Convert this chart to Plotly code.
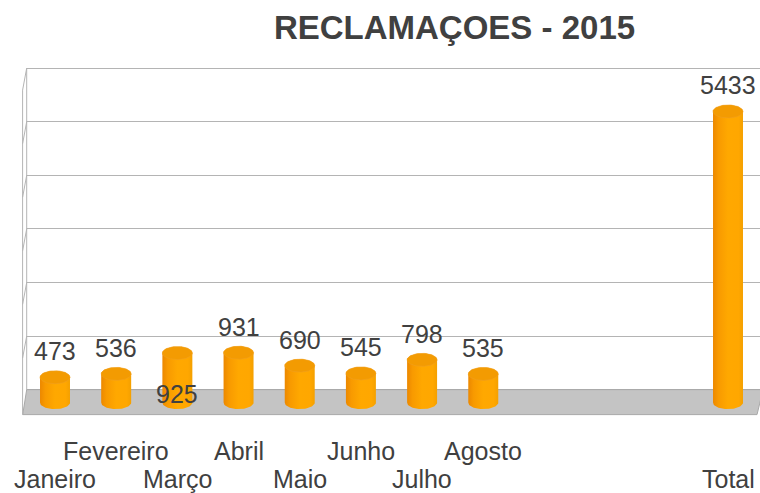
import numpy as np
import plotly.graph_objects as go

# ---- data ----
CATEGORIES = ["Janeiro", "Fevereiro", "Março", "Abril", "Maio", "Junho",
              "Julho", "Agosto", "", "", "", "Total"]
VALUES = [473, 536, 925, 931, 690, 545, 798, 535, None, None, None, 5433]
LABEL_INSIDE = ["Março"]          # data label drawn at the foot of the bar
LOWER_ROW = ["Janeiro", "Março", "Maio", "Julho", "Total"]  # staggered axis labels
TITLE = "RECLAMAÇOES - 2015"
GRID_VALUES = [242, 1242, 2242, 3242, 4242, 5242, 6242]

# ---- style ----
W, H = 760, 493
ML, MR, MT, MB = 22, 0, 65, 77
XR = [-0.5394, 11.523]
YR = [-250, 6300]
PX_PER_Y = (H - MT - MB) / (YR[1] - YR[0])
HALF_W = 0.245
RY = 6.5 / PX_PER_Y
TXT = "#404040"
FONT = "Liberation Sans, Arial, sans-serif"
BODY_SCALE = [[0, "#EC8800"], [0.18, "#F89A00"], [0.5, "#FFA800"],
              [0.85, "#FFA700"], [1, "#F4A000"]]
CAP = "#F39B02"
GRID = "#B4B4B4"

fig = go.Figure()
t_bot = np.linspace(np.pi, 2 * np.pi, 40)
t_top = np.linspace(0, np.pi, 40)
t_full = np.linspace(0, 2 * np.pi, 80)

for i, (cat, v) in enumerate(zip(CATEGORIES, VALUES)):
    if v is None:
        continue
    xs = list(i + HALF_W * np.cos(t_bot)) + list(i + HALF_W * np.cos(t_top))
    ys = list(0 + RY * np.sin(t_bot)) + list(v + RY * np.sin(t_top))
    fig.add_trace(go.Scatter(
        x=xs, y=ys, mode="lines", fill="toself", line=dict(width=0),
        fillgradient=dict(type="horizontal", colorscale=BODY_SCALE),
        hoverinfo="skip", showlegend=False))
    fig.add_trace(go.Scatter(
        x=i + HALF_W * np.cos(t_full), y=v + RY * np.sin(t_full),
        mode="lines", fill="toself", fillcolor=CAP,
        line=dict(width=0.6, color="#F0A020"),
        hoverinfo="skip", showlegend=False))

annotations = []
for i, (cat, v) in enumerate(zip(CATEGORIES, VALUES)):
    if v is not None:
        inside = cat in LABEL_INSIDE
        annotations.append(dict(
            x=i, y=0 if inside else v, xref="x", yref="y",
            text=str(v), showarrow=False, yanchor="middle",
            yshift=9 if inside else 26,
            font=dict(family=FONT, size=25, color=TXT)))
    if cat:
        annotations.append(dict(
            x=i, y=0, xref="x", yref="y", text=cat, showarrow=False,
            yanchor="middle", yshift=-76 if cat in LOWER_ROW else -48,
            font=dict(family=FONT, size=25, color=TXT)))


def xpx(p):
    return (p - 55) / 61.18


shapes = [
    # cover gridline stubs on the left wall
    dict(type="rect", xref="x", yref="y", x0=XR[0], x1=xpx(26.5),
         y0=YR[0], y1=YR[1], fillcolor="white", line=dict(width=0),
         layer="between"),
    # floor
    dict(type="path", xref="x", yref="y",
         path=f"M {xpx(22.7)},{-224} L {xpx(757)},{-224} L {xpx(763)},{242} "
              f"L {xpx(26.7)},{242} Z",
         fillcolor="#C4C4C4", line=dict(color="#A8A8A8", width=1),
         layer="between"),
    # left wall
    dict(type="line", xref="x", yref="y", x0=xpx(26.7), x1=xpx(26.7),
         y0=242, y1=6242, line=dict(color=GRID, width=1), layer="between"),
    dict(type="line", xref="x", yref="y", x0=xpx(22.6), x1=xpx(22.6),
         y0=-224, y1=6242 - 22 / PX_PER_Y, line=dict(color=GRID, width=1),
         layer="between"),
]
for g in GRID_VALUES[1:]:
    shapes.append(dict(type="line", xref="x", yref="y", x0=xpx(26.7),
                       x1=xpx(22.6), y0=g, y1=g - 22 / PX_PER_Y,
                       line=dict(color=GRID, width=1), layer="between"))

fig.update_layout(
    width=W, height=H, margin=dict(l=ML, r=MR, t=MT, b=MB),
    paper_bgcolor="white", plot_bgcolor="white",
    title=dict(text=f"<b>{TITLE}</b>", xref="container", yref="container",
               x=454.5 / W, xanchor="center", y=1 - 27 / H, yanchor="middle",
               font=dict(family=FONT, size=33, color=TXT)),
    xaxis=dict(range=XR, showgrid=False, zeroline=False, showticklabels=False,
               showline=False, ticks=""),
    yaxis=dict(range=YR, tickmode="array", tickvals=GRID_VALUES,
               showticklabels=False, showgrid=True, gridcolor=GRID,
               gridwidth=1, zeroline=False, showline=False, ticks=""),
    shapes=shapes, annotations=annotations, showlegend=False,
)

fig.write_html(
    "out.html",
    config={"displayModeBar": False},
    post_script="document.body.style.margin='0';document.body.style.overflow='hidden';",
)
